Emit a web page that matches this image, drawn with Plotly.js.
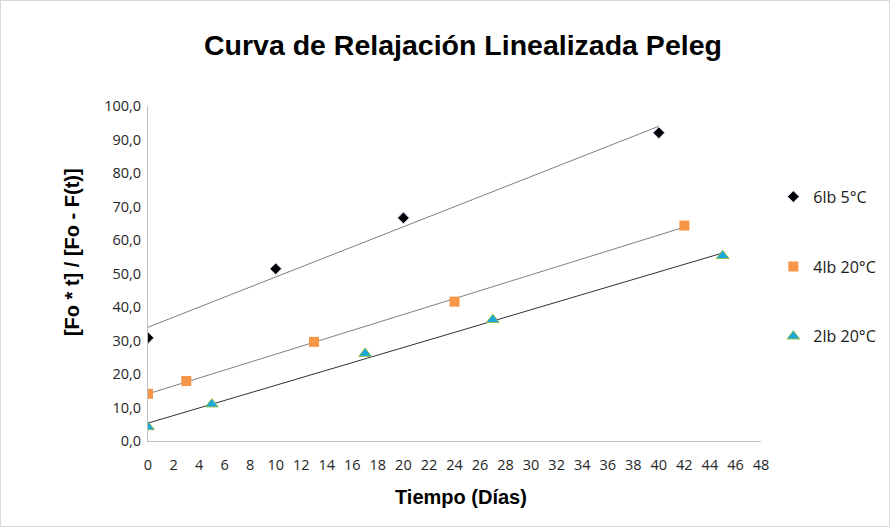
<!DOCTYPE html>
<html>
<head>
<meta charset="utf-8">
<script src="https://cdn.plot.ly/plotly-3.0.1.min.js"></script>
<style>
html,body{margin:0;padding:0;background:#fff;}
#wrap{width:892px;height:529px;position:relative;overflow:hidden;}
#chart{width:892px;height:529px;position:absolute;left:0;top:0;}
#frame{position:absolute;left:0;top:0;width:888px;height:525px;border:1px solid #d9d9d9;pointer-events:none;}
</style>
</head>
<body>
<div id="wrap"><div id="chart"></div><div id="frame"></div></div>
<script>
// Data
const seriesNames = ["6lb 5°C", "4lb 20°C", "2lb 20°C"];
const x6lb = [0, 10, 20, 40];
const y6lb = [30.8, 51.4, 66.6, 92.0];
const x4lb = [0, 3, 13, 24, 42];
const y4lb = [14.1, 17.9, 29.6, 41.6, 64.3];
const x2lb = [0, 5, 17, 27, 45];
const y2lb = [4.2, 11.0, 26.1, 36.2, 55.3];
const xTicks = [0,2,4,6,8,10,12,14,16,18,20,22,24,26,28,30,32,34,36,38,40,42,44,46,48];
const yTicks = [0,10,20,30,40,50,60,70,80,90,100];
const yTickText = yTicks.map(v => v.toFixed(1).replace('.', ','));
const titleText = 'Curva de Relajación Linealizada Peleg';
const xTitle = 'Tiempo (Días)';
const yTitle = '[Fo * t] / [Fo - F(t)]';

function linfit(xs, ys) {
  const n = xs.length;
  const mx = xs.reduce((a,b)=>a+b,0)/n;
  const my = ys.reduce((a,b)=>a+b,0)/n;
  let sxy = 0, sxx = 0;
  for (let i=0;i<n;i++){ sxy += (xs[i]-mx)*(ys[i]-my); sxx += (xs[i]-mx)**2; }
  const m = sxy/sxx, b = my - m*mx;
  const x0 = Math.min(...xs), x1 = Math.max(...xs);
  return {x:[x0,x1], y:[m*x0+b, m*x1+b]};
}

const t6 = linfit(x6lb, y6lb), t4 = linfit(x4lb, y4lb), t2 = linfit(x2lb, y2lb);

const traces = [
  {x:t6.x, y:t6.y, mode:'lines', line:{color:'#7f7f7f', width:1}, showlegend:false, hoverinfo:'skip'},
  {x:t4.x, y:t4.y, mode:'lines', line:{color:'#7f7f7f', width:1}, showlegend:false, hoverinfo:'skip'},
  {x:t2.x, y:t2.y, mode:'lines', line:{color:'#303030', width:1}, showlegend:false, hoverinfo:'skip'},
  {x:x6lb, y:y6lb, name:seriesNames[0], mode:'markers', legendgroup:'a',
   marker:{symbol:'diamond', size:9, color:'#000000', line:{color:'#c9d7ee', width:1}}},
  {x:x4lb, y:y4lb, name:seriesNames[1], mode:'markers', legendgroup:'b',
   marker:{symbol:'square', size:10, color:'#F79646', line:{color:'#F79646', width:0}}},
  {x:x2lb, y:y2lb, name:seriesNames[2], mode:'markers', legendgroup:'c',
   marker:{symbol:'triangle-up', size:11, color:'#1BA8DD', line:{color:'#8DBB4A', width:1}}}
];

const tickFont = {family:'Open Sans, Noto Sans, sans-serif', size:14.5, color:'#262626'};
const boldFont = {family:'Liberation Sans, Arial, sans-serif', size:20, color:'#000000'};
const layout = {
  width:892, height:529,
  margin:{l:148, r:131, t:106, b:88, autoexpand:false},
  paper_bgcolor:'#ffffff', plot_bgcolor:'#ffffff',
  title:{text:'<b>'+titleText+'</b>', x:0.519, xanchor:'center', y:0.915, yanchor:'middle',
         font:{family:'Liberation Sans, Arial, sans-serif', size:28.5, color:'#000000'}},
  xaxis:{range:[0,48], tickvals:xTicks, ticktext:xTicks.map(String), showgrid:false, zeroline:false,
         showline:true, linecolor:'#bfbfbf', linewidth:1, ticks:'', tickfont:tickFont, ticklabelstandoff:11},
  yaxis:{range:[0,100], tickvals:yTicks, ticktext:yTickText, showgrid:false, zeroline:false,
         showline:true, linecolor:'#bfbfbf', linewidth:1, ticks:'', tickfont:tickFont, ticklabelstandoff:3},
  annotations:[
    {text:'<b>'+xTitle+'</b>', xref:'paper', yref:'paper', x:0.511, y:-0.167, xanchor:'center', yanchor:'middle',
     showarrow:false, font:boldFont},
    {text:'<b>'+yTitle+'</b>', xref:'paper', yref:'paper', x:-0.124, y:0.564, xanchor:'center', yanchor:'middle',
     textangle:-90, showarrow:false, font:boldFont}
  ],
  legend:{xref:'container', x:0.867, xanchor:'left', y:0.78, yanchor:'top', tracegroupgap:46,
          font:{family:'Open Sans, Noto Sans, sans-serif', size:16, color:'#1a1a1a'}, itemwidth:30},
  showlegend:true
};

Plotly.newPlot('chart', traces, layout, {displayModeBar:false, staticPlot:true});
</script>
</body>
</html>
